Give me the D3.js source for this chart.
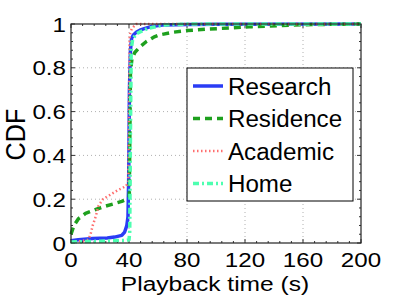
<!DOCTYPE html>
<html>
<head>
<meta charset="utf-8">
<script src="https://cdn.jsdelivr.net/npm/d3@7"></script>
<style>
  body { margin: 0; background: #fff; }
  text { font-family: "Liberation Sans", Arial, Helvetica, sans-serif; fill: #000; }
</style>
</head>
<body>
<svg id="chart"></svg>
<script>
// series names and their CDF samples
const categories = ["Research", "Residence", "Academic", "Home"];

const researchX = [0, 5, 15, 25, 30, 35, 37, 38.5, 39.3, 39.8, 40.3, 41, 41.8, 43, 45, 47.5, 50, 55, 63, 80, 100, 200];
const researchY = [0.01, 0.015, 0.02, 0.023, 0.027, 0.035, 0.05, 0.08, 0.12, 0.3, 0.7, 0.88, 0.935, 0.95, 0.962, 0.972, 0.978, 0.988, 0.995, 0.998, 0.999, 1];

const residenceX = [0, 2, 5, 10, 16, 22, 30, 35, 38.5, 40.2, 40.6, 41, 42, 44, 47.5, 52, 57, 61, 70, 80, 95, 110, 125, 145, 160, 200];
const residenceY = [0.04, 0.08, 0.11, 0.135, 0.15, 0.165, 0.18, 0.19, 0.2, 0.21, 0.5, 0.78, 0.84, 0.87, 0.895, 0.92, 0.94, 0.95, 0.962, 0.97, 0.977, 0.982, 0.988, 0.993, 0.997, 1];

const academicX = [0, 8, 12, 13.5, 15, 17, 19, 22, 27, 32, 38, 39.5, 40, 40.5, 42, 45, 200];
const academicY = [0.005, 0.01, 0.015, 0.04, 0.08, 0.12, 0.17, 0.2, 0.22, 0.24, 0.26, 0.28, 0.6, 0.95, 0.98, 1, 1];

const homeX = [0, 20, 38, 40, 40.5, 41, 41.5, 42.5, 45, 48, 53, 60, 66, 80, 200];
const homeY = [0.005, 0.008, 0.012, 0.015, 0.05, 0.5, 0.88, 0.93, 0.955, 0.965, 0.98, 0.99, 0.996, 1, 1];

const xTicks = [0, 40, 80, 120, 160, 200];
const yTicks = [0, 0.2, 0.4, 0.6, 0.8, 1];
const yTickLabels = ["0", "0.2", "0.4", "0.6", "0.8", "1"];

const seriesX = [researchX, residenceX, academicX, homeX];
const seriesY = [researchY, residenceY, academicY, homeY];
const colors = ["#2a3cf5", "#1ea01e", "#ff6f6f", "#4dffb0"];
const dashes = [null, "7,5", "1.5,2.5", "6,3,2,3"];
const widths = [3.5, 3.5, 2.5, 3.5];

const W = 399, H = 299;
const margin = {top: 24, right: 38, bottom: 56, left: 71};
const width = W - margin.left - margin.right,
      height = H - margin.top - margin.bottom;

const svg = d3.select("#chart").attr("width", W).attr("height", H);
const g = svg.append("g").attr("transform", "translate(" + margin.left + "," + margin.top + ")");

const x = d3.scaleLinear().domain([0, 200]).range([0, width]);
const y = d3.scaleLinear().domain([0, 1]).range([height, 0]);

// the original lettering is a bit wider than Liberation Sans, so stretch it
const label = (parent, tx, ty, str, size, anchor, sx) =>
  parent.append("text")
    .attr("transform", "translate(" + tx + "," + ty + ") scale(" + sx + ",1)")
    .attr("text-anchor", anchor).style("font-size", size + "px")
    .text(str);

// dotted grid
g.append("g").selectAll("line").data(xTicks.slice(1, -1)).enter().append("line")
  .attr("x1", d => x(d)).attr("x2", d => x(d)).attr("y1", 0).attr("y2", height)
  .attr("stroke", "#b0b0b0").attr("stroke-width", 1).attr("stroke-dasharray", "1,3");
g.append("g").selectAll("line").data(yTicks.slice(1, -1)).enter().append("line")
  .attr("x1", 0).attr("x2", width).attr("y1", d => y(d)).attr("y2", d => y(d))
  .attr("stroke", "#b0b0b0").attr("stroke-width", 1).attr("stroke-dasharray", "1,3");

// minor + major ticks on all four sides, pointing inside
const xMinor = d3.range(0, 200.01, 8), yMinor = d3.range(0, 1.0001, 0.04);
const tickG = g.append("g").attr("stroke", "#333").attr("stroke-width", 1);
xMinor.forEach(v => {
  const len = xTicks.includes(v) ? 4 : 2;
  tickG.append("line").attr("x1", x(v)).attr("x2", x(v)).attr("y1", height).attr("y2", height - len);
  tickG.append("line").attr("x1", x(v)).attr("x2", x(v)).attr("y1", 0).attr("y2", len);
});
yMinor.forEach(v => {
  const len = yTicks.some(t => Math.abs(t - v) < 1e-6) ? 4 : 2;
  tickG.append("line").attr("x1", 0).attr("x2", len).attr("y1", y(v)).attr("y2", y(v));
  tickG.append("line").attr("x1", width).attr("x2", width - len).attr("y1", y(v)).attr("y2", y(v));
});

// curves
const line = d3.line().x(d => x(d[0])).y(d => y(d[1]));
categories.forEach((c, i) => {
  const pts = seriesX[i].map((v, j) => [v, seriesY[i][j]]);
  g.append("path").datum(pts)
    .attr("d", line)
    .attr("fill", "none")
    .attr("stroke", colors[i])
    .attr("stroke-width", widths[i])
    .attr("stroke-dasharray", dashes[i])
    .attr("stroke-linejoin", "round");
});

// frame
g.append("rect").attr("width", width).attr("height", height)
  .attr("fill", "none").attr("stroke", "#222").attr("stroke-width", 1.2);

// tick labels
xTicks.forEach(d => label(g, x(d), height + 24, d, 21, "middle", 1.15));
yTicks.forEach((d, i) => label(g, -5, y(d) + 7.5, yTickLabels[i], 21, "end", 1.15));

// axis titles
label(svg, margin.left + width / 2 - 1, 291, "Playback time (s)", 21, "middle", 1.17);
svg.append("text").attr("transform", "translate(25," + (margin.top + height / 2 + 1) + ") rotate(-90) scale(1.05,1.15)")
  .attr("text-anchor", "middle").style("font-size", "24px")
  .text("CDF");

// legend
const legend = svg.append("g").attr("transform", "translate(187,68)");
legend.append("rect").attr("width", 166).attr("height", 133)
  .attr("fill", "#fff").attr("stroke", "#000").attr("stroke-width", 1);
categories.forEach((c, i) => {
  const ly = 18 + i * 32.5;
  legend.append("line").attr("x1", 6).attr("x2", 36).attr("y1", ly).attr("y2", ly)
    .attr("stroke", colors[i]).attr("stroke-width", widths[i])
    .attr("stroke-dasharray", dashes[i]);
  label(legend, 41, ly + 8.5, c, 23, "start", 1.05);
});
</script>
</body>
</html>
